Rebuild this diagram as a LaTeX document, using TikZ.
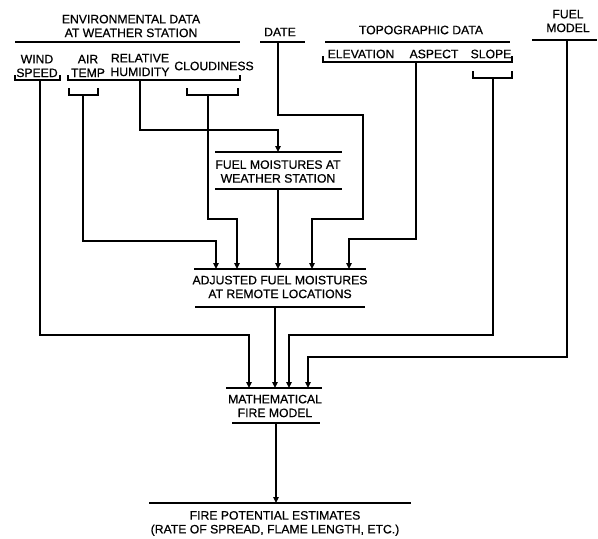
\documentclass[tikz,border=0pt]{standalone}
\usepackage{fontspec}
\setmainfont[FakeBold=0.6]{Liberation Sans}
\usetikzlibrary{arrows.meta}
\begin{document}
\begin{tikzpicture}[x=1pt,y=-1pt,
 lbl/.style={font=\fontsize{12.2}{13.8}\selectfont, align=center, inner sep=0pt},
 rule/.style={line width=1.3pt},
 conn/.style={line width=1.3pt},
 arr/.style={conn,-{Triangle[length=6pt,width=5.5pt]}}]
\useasboundingbox (0,0) rectangle (598,539);
% labels
\node[lbl] (env) at (131,26) {ENVIRONMENTAL DATA\\AT WEATHER STATION};
\node[lbl] (date) at (280,32) {DATE};
\node[lbl] (topo) at (421,30) {TOPOGRAPHIC DATA};
\node[lbl] (fuel) at (568,21) {FUEL\\MODEL};
\node[lbl] (wind) at (37,66) {WIND\\SPEED};
\node[lbl] (air) at (88,66) {AIR\\TEMP};
\node[lbl] (hum) at (140,65) {RELATIVE\\HUMIDITY};
\node[lbl] (cloud) at (214,66) {CLOUDINESS};
\node[lbl] (elev) at (361,54) {ELEVATION};
\node[lbl] (asp) at (434,54) {ASPECT};
\node[lbl] (slope) at (491,54) {SLOPE};
\node[lbl] (fmws) at (278,171.5) {FUEL MOISTURES AT\\WEATHER STATION};
\node[lbl] (adj) at (280,287) {ADJUSTED FUEL MOISTURES\\AT REMOTE LOCATIONS};
\node[lbl] (math) at (275,406) {MATHEMATICAL\\FIRE MODEL};
\node[lbl] (fire) at (275,523.5) {FIRE POTENTIAL ESTIMATES\\(RATE OF SPREAD, FLAME LENGTH, ETC.)};
% header rules
\draw[rule] (15,42) -- (240,42);
\draw[rule] (260,42) -- (305,42);
\draw[rule] (325,42) -- (510,42);
\draw[rule] (532,40) -- (597,40);
% brackets
\draw[rule] (15,75) |- (60,80) -- (60,75);
\draw[rule] (68,75) |- (240,80) -- (240,75);
\draw[rule] (69,88) |- (98,95) -- (98,88);
\draw[rule] (187,88) |- (238,95) -- (238,88);
\draw[rule] (323,56) |- (512,62) -- (512,56);
\draw[rule] (473,71) |- (512,78) -- (512,71);
% box rules
\draw[rule] (215,152) -- (342,152);
\draw[rule] (215,189) -- (342,189);
\draw[rule] (194,269) -- (366,269);
\draw[rule] (195,307) -- (365,307);
\draw[rule] (226,388) -- (322,388);
\draw[rule] (232,423) -- (320,423);
\draw[rule] (149,503) -- (411,503);
% connector ends
\coordinate (windS) at (40,80);
\coordinate (airS) at (83,95);
\coordinate (humS) at (140,80);
\coordinate (cloudS) at (208,95);
\coordinate (dateS) at (278,42);
\coordinate (aspS) at (416,62);
\coordinate (slopeS) at (493,78);
\coordinate (fuelS) at (567,40);
\coordinate (fmwsT) at (278,152);
\coordinate (fmwsB) at (278,189);
\coordinate (adj1) at (216,269);
\coordinate (adj2) at (237,269);
\coordinate (adj3) at (278,269);
\coordinate (adj4) at (312,269);
\coordinate (adj5) at (349,269);
\coordinate (adjB) at (275,307);
\coordinate (m1) at (249,388);
\coordinate (m2) at (275,388);
\coordinate (m3) at (289,388);
\coordinate (m4) at (308,388);
\coordinate (mathB) at (276,423);
\coordinate (fireT) at (276,503);
% connectors
\draw[arr] (humS) -- (140,130) -| (fmwsT);
\draw[arr] (dateS) -- (278,115) -| (363,219) -| (adj4);
\draw[arr] (airS) -- (83,241) -| (adj1);
\draw[arr] (cloudS) -- (208,219) -| (adj2);
\draw[arr] (fmwsB) -- (adj3);
\draw[arr] (aspS) -- (416,239) -| (adj5);
\draw[arr] (windS) -- (40,335) -| (m1);
\draw[arr] (adjB) -- (m2);
\draw[arr] (slopeS) -- (493,335) -| (m3);
\draw[arr] (fuelS) -- (567,357) -| (m4);
\draw[arr] (mathB) -- (fireT);
\end{tikzpicture}
\end{document}
